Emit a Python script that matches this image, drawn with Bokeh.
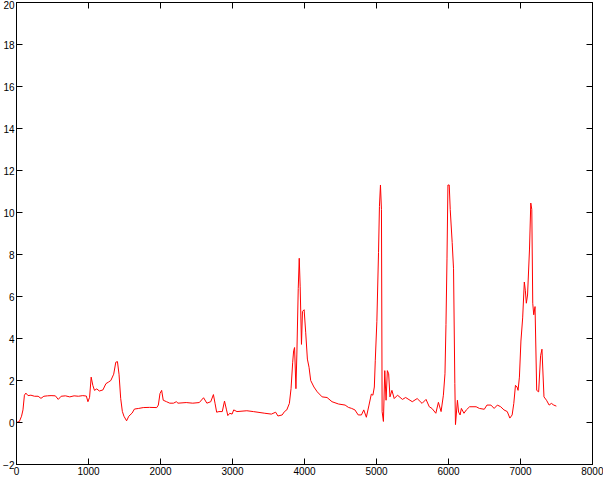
from bokeh.plotting import figure
from bokeh.models import Range1d, FixedTicker, LinearAxis
from bokeh.embed import file_html
from bokeh.resources import INLINE

# ---- data ----
time = [0, 40, 70, 90, 110, 130, 160, 200, 250, 300, 340, 380, 430, 480, 540, 580, 620, 680, 740, 800,
        860, 920, 970, 992, 1015, 1037, 1060, 1083, 1115, 1151, 1200, 1242, 1280, 1310, 1350, 1379, 1402,
        1424, 1447, 1470, 1492, 1529, 1560, 1606, 1638, 1697, 1760, 1848, 1948, 1970, 1993, 2016, 2038,
        2084, 2129, 2180, 2220, 2243, 2357, 2448, 2539, 2598, 2644, 2698, 2735, 2757, 2780, 2812, 2858,
        2889, 2917, 2935, 2962, 2994, 3017, 3062, 3199, 3290, 3449, 3540, 3599, 3631, 3690, 3722, 3754,
        3790, 3813, 3836, 3849, 3862, 3881, 3894, 3913, 3927, 3940, 3958, 3972, 3995, 4017, 4040, 4063,
        4086, 4131, 4177, 4245, 4313, 4382, 4473, 4564, 4610, 4655, 4700, 4746, 4791, 4823, 4859, 4896,
        4928, 4950, 4970, 4983, 5005, 5028, 5041, 5055, 5069, 5078, 5096, 5115, 5133, 5151, 5169, 5187,
        5214, 5246, 5292, 5360, 5405, 5497, 5565, 5633, 5688, 5733, 5770, 5824, 5860, 5897, 5929, 5951,
        5965, 5979, 5992, 6010, 6024, 6051, 6070, 6088, 6097, 6124, 6140, 6161, 6179, 6215, 6248, 6293,
        6384, 6429, 6497, 6534, 6589, 6634, 6679, 6725, 6770, 6816, 6852, 6884, 6907, 6930, 6952, 6966,
        6985, 7006, 7030, 7053, 7067, 7081, 7098, 7125, 7143, 7157, 7170, 7184, 7202, 7225, 7252, 7279,
        7298, 7326, 7361, 7398, 7429, 7462, 7498]
signal = [0.0, 0.05, 0.3, 0.6, 1.3, 1.4, 1.28, 1.3, 1.25, 1.25, 1.15, 1.25, 1.27, 1.28, 1.27, 1.1, 1.25,
          1.27, 1.22, 1.27, 1.25, 1.28, 1.26, 0.99, 1.2, 2.16, 1.77, 1.53, 1.6, 1.5, 1.55, 1.85, 1.93, 2.0,
          2.3, 2.87, 2.9, 2.3, 1.15, 0.53, 0.3, 0.08, 0.3, 0.45, 0.64, 0.67, 0.71, 0.72, 0.71, 0.83, 1.38,
          1.53, 1.06, 0.99, 0.92, 0.92, 0.99, 0.92, 0.95, 0.92, 0.95, 1.18, 0.92, 0.99, 1.33, 0.92, 0.49,
          0.52, 0.52, 1.02, 0.6, 0.33, 0.44, 0.4, 0.6, 0.52, 0.56, 0.52, 0.44, 0.4, 0.49, 0.31, 0.36, 0.52,
          0.6, 0.91, 1.61, 2.87, 3.41, 3.57, 1.61, 3.26, 6.38, 7.82, 6.46, 3.72, 5.29, 5.37, 4.27, 3.02,
          2.63, 2.0, 1.69, 1.46, 1.22, 1.19, 0.99, 0.88, 0.83, 0.72, 0.67, 0.6, 0.36, 0.36, 0.6, 0.25,
          0.83, 1.35, 1.3, 1.69, 2.94, 4.82, 8.1, 10.29, 11.31, 10.14, 0.52, 0.05, 2.47, 1.06, 2.47, 2.32,
          1.22, 1.53, 1.14, 1.3, 1.1, 1.19, 0.99, 1.14, 0.91, 1.1, 0.75, 0.67, 0.44, 0.96, 0.52, 1.3, 2.32,
          4.66, 7.79, 11.31, 11.31, 10.14, 8.57, 7.32, 1.85, -0.1, 1.06, 0.5, 0.36, 0.67, 0.44, 0.6, 0.75,
          0.75, 0.67, 0.63, 0.83, 0.83, 0.67, 0.83, 0.75, 0.6, 0.52, 0.21, 0.36, 0.91, 1.77, 1.69, 1.53,
          2.16, 3.88, 4.98, 6.69, 6.3, 5.68, 6.07, 8.26, 10.45, 10.14, 5.68, 5.13, 5.52, 1.53, 1.46, 3.18,
          3.49, 1.22, 1.06, 0.83, 0.91, 0.83, 0.78]

x_ticks = [0, 1000, 2000, 3000, 4000, 5000, 6000, 7000, 8000]
y_ticks = [-2, 0, 2, 4, 6, 8, 10, 12, 14, 16, 18, 20]
x_limits = (0, 8000)
y_limits = (-2, 20)

FONT = "Liberation Sans"

p = figure(width=603, height=477, output_backend="svg", toolbar_location=None,
           x_range=Range1d(*x_limits), y_range=Range1d(*y_limits),
           min_border_left=0, min_border_right=11, min_border_top=2, min_border_bottom=0)

p.line(time, signal, line_color="#ff0000", line_width=1)

p.xgrid.grid_line_color = None
p.ygrid.grid_line_color = None
p.background_fill_color = "white"
p.border_fill_color = "white"
p.outline_line_color = "black"
p.outline_line_width = 1


def style_axis(ax, ticks, labels=True):
    ax.ticker = FixedTicker(ticks=ticks)
    ax.axis_line_color = "black"
    ax.major_tick_line_color = "black"
    ax.major_tick_in = 6
    ax.major_tick_out = 0
    ax.minor_tick_line_color = None
    ax.major_label_text_font = FONT
    if labels:
        ax.major_label_standoff = 2
        ax.major_label_text_font_size = "10px"
        ax.major_label_text_color = "black"
    else:
        # tick marks only, no labels drawn on this side
        ax.major_label_standoff = 0
        ax.major_label_text_font_size = "1px"
        ax.major_label_text_color = None


style_axis(p.xaxis[0], x_ticks)
style_axis(p.yaxis[0], y_ticks)

top = LinearAxis()
style_axis(top, x_ticks, labels=False)
p.add_layout(top, "above")

right = LinearAxis()
style_axis(right, y_ticks, labels=False)
p.add_layout(right, "right")

open("out.html", "w").write(file_html(p, INLINE))
